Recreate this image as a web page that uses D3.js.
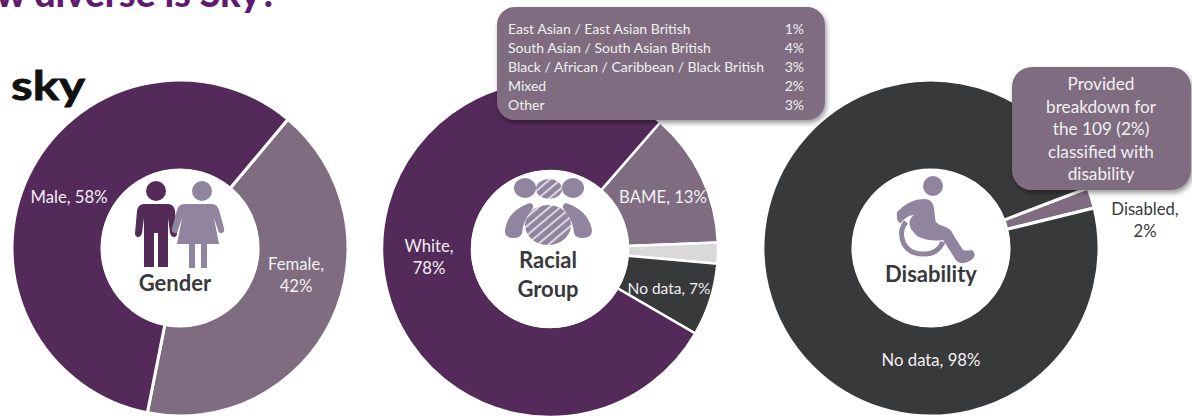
<!DOCTYPE html>
<html><head><meta charset="utf-8">
<script src="https://cdnjs.cloudflare.com/ajax/libs/d3/7.8.5/d3.min.js"></script>
<style>html,body{margin:0;padding:0;background:#fff;overflow:hidden}svg{display:block}text{font-family:Lato,"Open Sans",sans-serif}</style>
</head><body><svg id="c" width="1192" height="416"></svg>
<script>
const genderLabels = ["Female", "Male"];
const genderValues = [42, 58];
const racialLabels = ["BAME", "Not stated", "No data", "White"];
const racialValues = [13, 2, 7, 78];
const disabilityLabels = ["Disabled", "No data"];
const disabilityValues = [2, 98];
const bameRows = ["East Asian / East Asian British","South Asian / South Asian British","Black / African / Caribbean / Black British","Mixed","Other"];
const bameValues = [1, 4, 3, 2, 3];
const disabilityNote = ["Provided","breakdown for","the 109 (2%)","classified with","disability"];

const PURPLE="#532a59", MAUVE="#7f6c80", DARK="#38393b", LIGHT="#d9d9d9", ICON="#91849f";
const svg=d3.select("#c");
const defs=svg.append("defs");
const sh=defs.append("filter").attr("id","sh").attr("x","-10%").attr("y","-10%").attr("width","120%").attr("height","125%");
sh.append("feDropShadow").attr("dx",1.5).attr("dy",3).attr("stdDeviation",2.5).attr("flood-color","#000").attr("flood-opacity",.4);
const blur=defs.append("filter").attr("id","bl");
blur.append("feGaussianBlur").attr("stdDeviation",.7);
const stripes=defs.append("pattern").attr("id","stripes").attr("width",7).attr("height",7).attr("patternUnits","userSpaceOnUse").attr("patternTransform","rotate(-40)");
stripes.append("rect").attr("width",7).attr("height",7).attr("fill",ICON);
stripes.append("rect").attr("width",7).attr("height",1.8).attr("fill","#e4e0e8");

svg.append("text").attr("x",278).attr("y",7).attr("text-anchor","end").attr("font-size",37.5).attr("font-weight",900).attr("fill","#5f1c6e").text("How diverse is Sky?");
svg.append("text").attr("x",11).attr("y",100).attr("font-size",40).attr("font-weight",700).attr("fill","#111")
  .attr("textLength",74).attr("lengthAdjust","spacingAndGlyphs").attr("stroke","#111").attr("stroke-width",.8).text("sky");

const R=168,r=79;
function donut(cx,cy,labels,values,colors,startDeg,gap){
  const g=svg.append("g").attr("transform",`translate(${cx},${cy})`);
  const pie=d3.pie().sort(null).value(d=>d.v).startAngle(startDeg*Math.PI/180).endAngle((startDeg+360)*Math.PI/180);
  const arc=d3.arc().innerRadius(r-1).outerRadius(R);
  g.selectAll("path").data(pie(labels.map((l,i)=>({l,v:values[i]})))).join("path")
    .attr("d",arc).attr("fill",(d,i)=>colors[i]).attr("stroke","#fff").attr("stroke-width",gap);
  g.append("circle").attr("r",r).attr("fill","#fff");
  return g;
}
function label(x,y,lines,fill,size){
  const t=svg.append("text").attr("text-anchor","middle").attr("fill",fill).attr("font-size",size||16.7);
  lines.forEach((s,i)=>t.append("tspan").attr("x",x).attr("y",y+i*22).text(s));
}
donut(180,248,genderLabels,genderValues,[MAUVE,PURPLE],40,3);
donut(550,249,racialLabels,racialValues,[MAUVE,LIGHT,DARK,PURPLE],41,2.5);
donut(931,248,disabilityLabels,disabilityValues,[MAUVE,DARK],69,3);

label(69,203,[`${genderLabels[1]}, ${genderValues[1]}%`],"#f2eff3");
label(296,270,[`${genderLabels[0]},`,`${genderValues[0]}%`],"#f2eff3");
label(429,252,[`${racialLabels[3]},`,`${racialValues[3]}%`],"#f2eff3");
label(663,203,[`${racialLabels[0]}, ${racialValues[0]}%`],"#f2eff3");
label(669,294,[`${racialLabels[2]}, ${racialValues[2]}%`],"#f2eff3",15.5);
label(931,366,[`${disabilityLabels[1]}, ${disabilityValues[1]}%`],"#f2eff3");
label(1145,215,[`${disabilityLabels[0]},`,`${disabilityValues[0]}%`],"#38393b");

const ct=(x,y,lines)=>{const t=svg.append("text").attr("text-anchor","middle").attr("fill","#38393b").attr("font-size",22).attr("font-weight",700);
  lines.forEach((s,i)=>t.append("tspan").attr("x",x).attr("y",y+i*29).text(s));};
ct(175,291,["Gender"]);ct(548,268,["Racial","Group"]);ct(931,282,["Disability"]);

svg.append("rect").attr("x",497).attr("y",7).attr("width",328).attr("height",113).attr("rx",18).attr("fill",MAUVE).attr("filter","url(#sh)");
bameRows.forEach((s,i)=>{
  const y=34+i*19;
  svg.append("text").attr("x",508).attr("y",y).attr("font-size",14).attr("fill","#f2eff3").text(s);
  svg.append("text").attr("x",804).attr("y",y).attr("text-anchor","end").attr("font-size",14).attr("fill","#f2eff3").text(bameValues[i]+"%");
});
svg.append("rect").attr("x",1012).attr("y",67).attr("width",179).attr("height",123).attr("rx",20).attr("fill",MAUVE).attr("filter","url(#sh)");
disabilityNote.forEach((s,i)=>svg.append("text").attr("x",1101).attr("y",90+i*22.6).attr("text-anchor","middle").attr("font-size",17.2).attr("fill","#f2eff3").text(s));

const ic=svg.append("g").attr("filter","url(#bl)");
ic.append("circle").attr("cx",156).attr("cy",191).attr("r",10).attr("fill",PURPLE);
ic.append("path").attr("fill",PURPLE).attr("d","M144 204h24q6 0 7 7l2 22q0 4-3 4t-4-4l-2-15v49h-10v-34h-4v34h-10v-49l-2 15q-1 4-4 4t-3-4l2-22q1-7 7-7z");
ic.append("circle").attr("cx",202).attr("cy",191).attr("r",10).attr("fill",ICON);
ic.append("path").attr("fill",ICON).attr("d","M192 204h20q5 0 7 6l5 18q1 4-2 5t-4-3l-4-12 5 26h-12v24h-6v-24h-6v24h-6v-24h-12l5-26-4 12q-1 4-4 3t-2-5l5-18q2-6 7-6z");
ic.append("ellipse").attr("cx",525).attr("cy",188).attr("rx",11).attr("ry",10).attr("fill",ICON);
ic.append("ellipse").attr("cx",549).attr("cy",189).attr("rx",13).attr("ry",10).attr("fill","url(#stripes)");
ic.append("ellipse").attr("cx",573).attr("cy",188).attr("rx",11).attr("ry",10).attr("fill",ICON);
ic.append("path").attr("fill",ICON).attr("d","M530 203q6 2 1 8q-8 10-9 22q-1 5-9 5q-9 0-8-8q3-20 25-27z");
ic.append("path").attr("fill",ICON).attr("d","M566 203q-6 2-1 8q8 10 9 22q1 5 9 5q9 0 9-8q-4-20-26-27z");
ic.append("ellipse").attr("cx",548).attr("cy",225).attr("rx",23).attr("ry",20).attr("fill","url(#stripes)");
ic.append("circle").attr("cx",933).attr("cy",186).attr("r",10).attr("fill",ICON);
ic.append("path").attr("fill",ICON).attr("d","M897 212q12-13 27-13q9 0 10 9l1 10q0 6 8 8q8 2 11 10l9 14q4 1 9 0q4 3 2 7t-10 6q-7 1-10-6l-11-17q-14 2-26-4l-6-7q-4-9 3-14q-7 0-13 8q-5 0-4-11z");
ic.append("path").attr("fill","none").attr("stroke",ICON).attr("stroke-width",5).attr("d","M906 222q-6 7-4 16q3 15 20 16q15 1 21-12");
</script></body></html>
